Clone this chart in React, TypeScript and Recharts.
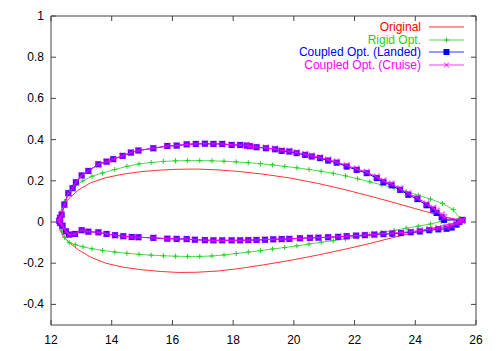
import React from 'react';
import { ScatterChart, Scatter, XAxis, YAxis, ReferenceArea } from 'recharts';

// ---- data ----
const xTicks = [12, 14, 16, 18, 20, 22, 24, 26];
const yTicks = [-0.4, -0.2, 0, 0.2, 0.4, 0.6, 0.8, 1];

const seriesNames = ['Original', 'Rigid Opt.', 'Coupled Opt. (Landed)', 'Coupled Opt. (Cruise)'];

// Original airfoil (upper & lower, leading edge -> trailing edge)
const originalX = [12.25, 12.3, 12.4, 12.6, 12.9, 13.3, 13.8, 14.4, 15.0, 15.6, 16.2, 16.8, 17.5, 18.2, 19.0, 19.9, 20.8, 21.6, 22.4, 23.2, 24.0, 24.8, 25.5];
const originalUpperY = [0, 0.045, 0.08, 0.115, 0.155, 0.19, 0.215, 0.233, 0.245, 0.252, 0.256, 0.257, 0.253, 0.245, 0.232, 0.213, 0.187, 0.16, 0.13, 0.098, 0.065, 0.032, 0.003];
const originalLowerY = [0, -0.04, -0.07, -0.1, -0.135, -0.17, -0.2, -0.22, -0.232, -0.24, -0.245, -0.244, -0.238, -0.226, -0.208, -0.186, -0.16, -0.135, -0.108, -0.078, -0.05, -0.022, 0.003];

// Rigid Opt.
const rigidUpperX = [12.3, 12.35, 12.45, 12.6, 12.8, 13.05, 13.35, 13.7, 14.1, 14.5, 14.9, 15.3, 15.7, 16.1, 16.5, 16.9, 17.3, 17.7, 18.1, 18.5, 18.9, 19.3, 19.7, 20.1, 20.5, 20.9, 21.3, 21.7, 22.1, 22.5, 22.9, 23.3, 23.7, 24.1, 24.5, 24.9, 25.25, 25.47];
const rigidUpperY = [0, 0.05, 0.1, 0.145, 0.175, 0.2, 0.222, 0.238, 0.255, 0.27, 0.282, 0.289, 0.294, 0.297, 0.298, 0.298, 0.297, 0.295, 0.292, 0.288, 0.283, 0.277, 0.27, 0.263, 0.255, 0.246, 0.236, 0.224, 0.21, 0.195, 0.18, 0.165, 0.148, 0.13, 0.111, 0.09, 0.06, 0.016];
const rigidLowerX = [12.35, 12.45, 12.6, 12.8, 13.05, 13.35, 13.7, 14.1, 14.5, 14.9, 15.3, 15.7, 16.1, 16.5, 16.9, 17.3, 17.7, 18.1, 18.5, 18.9, 19.3, 19.7, 20.1, 20.5, 20.9, 21.3, 21.7, 22.1, 22.5, 22.9, 23.3, 23.7, 24.1, 24.5, 24.85, 25.47];
const rigidLowerY = [-0.04, -0.075, -0.1, -0.11, -0.12, -0.13, -0.138, -0.146, -0.152, -0.157, -0.161, -0.164, -0.166, -0.167, -0.167, -0.165, -0.16, -0.153, -0.146, -0.139, -0.131, -0.124, -0.116, -0.107, -0.098, -0.091, -0.082, -0.072, -0.062, -0.051, -0.041, -0.03, -0.02, -0.01, 0.003, 0.016];

// Coupled Opt. (shared x stations)
const coupledUpperX = [12.27, 12.3, 12.35, 12.44, 12.57, 12.71, 12.82, 13.01, 13.23, 13.56, 13.83, 14.05, 14.36, 14.63, 14.88, 15.37, 15.83, 16.14, 16.47, 16.77, 17.07, 17.35, 17.64, 17.95, 18.23, 18.45, 18.55, 18.77, 19.08, 19.38, 19.6, 19.85, 20.09, 20.37, 20.59, 20.86, 21.13, 21.41, 21.74, 22.07, 22.4, 22.73, 22.95, 23.22, 23.5, 23.77, 24.07, 24.37, 24.59, 24.7, 24.87, 24.95, 25.55];
const coupledLowerX = [12.3, 12.38, 12.49, 12.59, 12.79, 13.01, 13.23, 13.56, 13.83, 14.11, 14.38, 14.66, 14.88, 15.37, 15.83, 16.14, 16.47, 16.74, 17.07, 17.35, 17.64, 17.95, 18.23, 18.5, 18.77, 19.05, 19.32, 19.6, 19.85, 20.2, 20.53, 20.81, 21.13, 21.46, 21.74, 22.05, 22.34, 22.65, 22.95, 23.24, 23.53, 23.85, 24.15, 24.46, 24.76, 25.03, 25.2, 25.36, 25.45, 25.55];

// Coupled Opt. (Landed)
const landedUpperY = [0.006, 0.02, 0.035, 0.084, 0.14, 0.164, 0.193, 0.226, 0.248, 0.28, 0.293, 0.305, 0.321, 0.337, 0.347, 0.358, 0.369, 0.371, 0.377, 0.379, 0.38, 0.379, 0.379, 0.374, 0.374, 0.371, 0.368, 0.363, 0.358, 0.353, 0.345, 0.342, 0.334, 0.326, 0.318, 0.31, 0.298, 0.288, 0.269, 0.253, 0.237, 0.213, 0.193, 0.178, 0.156, 0.132, 0.111, 0.081, 0.06, 0.044, 0.023, 0.01, 0.01];
const landedLowerY = [-0.005, -0.018, -0.045, -0.061, -0.058, -0.04, -0.047, -0.05, -0.058, -0.064, -0.069, -0.073, -0.074, -0.077, -0.081, -0.082, -0.083, -0.086, -0.088, -0.089, -0.089, -0.089, -0.089, -0.088, -0.087, -0.086, -0.084, -0.083, -0.082, -0.079, -0.077, -0.076, -0.074, -0.072, -0.069, -0.066, -0.064, -0.061, -0.059, -0.057, -0.054, -0.05, -0.046, -0.04, -0.036, -0.033, -0.027, -0.013, 0.0, 0.01];

// Coupled Opt. (Cruise)
const cruiseUpperY = [0.006, 0.02, 0.035, 0.084, 0.14, 0.164, 0.193, 0.226, 0.248, 0.28, 0.293, 0.305, 0.321, 0.337, 0.347, 0.358, 0.369, 0.371, 0.377, 0.379, 0.38, 0.379, 0.379, 0.375, 0.374, 0.372, 0.369, 0.364, 0.36, 0.355, 0.347, 0.344, 0.337, 0.329, 0.321, 0.313, 0.302, 0.292, 0.274, 0.258, 0.242, 0.219, 0.2, 0.185, 0.162, 0.138, 0.117, 0.089, 0.068, 0.054, 0.035, 0.024, 0.008];
const cruiseLowerY = [-0.005, -0.018, -0.045, -0.061, -0.058, -0.04, -0.047, -0.05, -0.058, -0.064, -0.069, -0.073, -0.074, -0.077, -0.081, -0.082, -0.083, -0.086, -0.088, -0.089, -0.089, -0.089, -0.089, -0.088, -0.087, -0.086, -0.084, -0.083, -0.082, -0.079, -0.077, -0.076, -0.074, -0.072, -0.069, -0.066, -0.063, -0.06, -0.057, -0.054, -0.051, -0.047, -0.042, -0.035, -0.03, -0.025, -0.018, -0.006, 0.002, 0.008];

// ---- helpers ----
type Pt = { x: number; y: number };
const zip = (xs: number[], ys: number[]): Pt[] => xs.map((x, i) => ({ x, y: ys[i] }));
const loop = (ux: number[], uy: number[], lx: number[], ly: number[]): Pt[] => [
  ...zip(ux, uy).reverse(),
  ...zip(lx, ly),
];

const originalData = loop(originalX, originalUpperY, originalX.slice(1), originalLowerY.slice(1));
const rigidData = loop(rigidUpperX, rigidUpperY, rigidLowerX, rigidLowerY);
const landedData = loop(coupledUpperX, landedUpperY, coupledLowerX, landedLowerY);
const cruiseData = loop(coupledUpperX, cruiseUpperY, coupledLowerX, cruiseLowerY);

// ---- style ----
const FONT = '"Liberation Sans", Arial, Helvetica, sans-serif';
const AXIS = '#444';
const RED = '#ff0000';
const GREEN = '#22d022';
const BLUE = '#0000ff';
const MAGENTA = '#ff00ff';
const colors = [RED, GREEN, BLUE, MAGENTA];
const PLOT = { left: 51, right: 476, top: 16, bottom: 325 };

const NoShape = () => <g />;
const PlusShape = (p: any) => (
  <path d={`M${p.cx - 2.5},${p.cy}H${p.cx + 2.5}M${p.cx},${p.cy - 2.5}V${p.cy + 2.5}`} stroke={GREEN} strokeWidth={1} fill="none" />
);
const SquareShape = (p: any) => (
  <rect x={p.cx - 3} y={p.cy - 3} width={6} height={6} fill={BLUE} />
);
const XShape = (p: any) => (
  <path d={`M${p.cx - 3},${p.cy - 3}L${p.cx + 3},${p.cy + 3}M${p.cx - 3},${p.cy + 3}L${p.cx + 3},${p.cy - 3}`} stroke={MAGENTA} strokeOpacity={0.55} strokeWidth={2.2} fill="none" />
);

const XTick = (props: any) => {
  const { x, payload } = props;
  return (
    <g>
      <line x1={x} x2={x} y1={PLOT.bottom} y2={PLOT.bottom - 5} stroke={AXIS} />
      <line x1={x} x2={x} y1={PLOT.top} y2={PLOT.top + 5} stroke={AXIS} />
      <text x={x} y={PLOT.bottom + 19} textAnchor="middle" fontSize={12} fontFamily={FONT} fill="#000">
        {String(payload.value)}
      </text>
    </g>
  );
};

const YTick = (props: any) => {
  const { y, payload } = props;
  return (
    <g>
      <line x1={PLOT.left} x2={PLOT.left + 5} y1={y} y2={y} stroke={AXIS} />
      <line x1={PLOT.right} x2={PLOT.right - 5} y1={y} y2={y} stroke={AXIS} />
      <text x={PLOT.left - 7} y={y + 4} textAnchor="end" fontSize={12} fontFamily={FONT} fill="#000">
        {String(payload.value)}
      </text>
    </g>
  );
};

const LegendMarker = ({ i }: { i: number }) => {
  const cx = 17.5, cy = 6;
  if (i === 1) return <PlusShape cx={cx} cy={cy} />;
  if (i === 2) return <SquareShape cx={cx} cy={cy} />;
  if (i === 3) return (
    <path d={`M${cx - 2.5},${cy - 2.5}L${cx + 2.5},${cy + 2.5}M${cx - 2.5},${cy + 2.5}L${cx + 2.5},${cy - 2.5}`} stroke={MAGENTA} strokeWidth={1} fill="none" />
  );
  return null;
};

const LegendBox = () => (
  <div style={{ position: 'absolute', left: 0, top: 21, width: 470, fontFamily: FONT, fontSize: 12 }}>
    {seriesNames.map((name, i) => (
      <div key={name} style={{ display: 'flex', justifyContent: 'flex-end', alignItems: 'center', height: 12.5 }}>
        <span style={{ color: colors[i], whiteSpace: 'nowrap', lineHeight: '12px' }}>{name}</span>
        <svg width={35} height={12} style={{ marginLeft: 8, marginRight: 6 }}>
          <line x1={0} x2={35} y1={6} y2={6} stroke={colors[i]} strokeWidth={0.8} />
          <LegendMarker i={i} />
        </svg>
      </div>
    ))}
  </div>
);

export default function App() {
  return (
    <div style={{ position: 'absolute', left: 0, top: 0, width: 501, height: 351, background: '#fff' }}>
      <ScatterChart width={501} height={351} margin={{ top: PLOT.top, right: 501 - PLOT.right, bottom: 0, left: 0 }}>
        <XAxis type="number" dataKey="x" domain={[12, 26]} ticks={xTicks} interval={0} height={26}
          axisLine={false} tickLine={false} tick={<XTick />} allowDataOverflow />
        <YAxis type="number" dataKey="y" domain={[-0.5, 1]} ticks={yTicks} interval={0} width={51}
          axisLine={false} tickLine={false} tick={<YTick />} allowDataOverflow />
        <ReferenceArea x1={12} x2={26} y1={-0.5} y2={1} fill="none" fillOpacity={0} stroke={AXIS} strokeWidth={1} ifOverflow="visible" />
        <Scatter name={seriesNames[0]} data={originalData} line={{ stroke: RED, strokeWidth: 0.8 }} shape={NoShape} isAnimationActive={false} />
        <Scatter name={seriesNames[1]} data={rigidData} line={{ stroke: GREEN, strokeWidth: 0.8 }} shape={PlusShape} isAnimationActive={false} />
        <Scatter name={seriesNames[2]} data={landedData} line={{ stroke: BLUE, strokeWidth: 1 }} shape={SquareShape} isAnimationActive={false} />
        <Scatter name={seriesNames[3]} data={cruiseData} line={{ stroke: MAGENTA, strokeWidth: 1 }} shape={XShape} isAnimationActive={false} />
      </ScatterChart>
      <LegendBox />
    </div>
  );
}
